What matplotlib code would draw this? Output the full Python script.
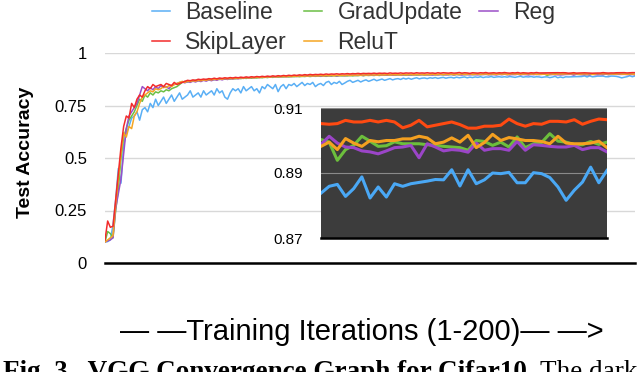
import numpy as np
import matplotlib.pyplot as plt

# Test accuracy (x1000) for iterations 1-164
baseline_head = [
    100, 102, 110, 180, 300, 450, 380, 560, 620, 650,
    690, 700, 720, 680, 730, 740, 720, 760, 740, 780,
    750, 770, 790, 760, 780, 800, 770, 790, 810, 780,
    790, 800, 820, 790, 800, 810, 790, 820, 800, 810,
    820, 800, 830, 810, 820, 790, 780, 810, 830, 820,
    830, 810, 840, 820, 830, 840, 820, 830, 810, 840,
    830, 850, 840, 830, 850, 816, 840, 850, 830, 850,
    845, 855, 840, 850, 860, 845, 855, 850, 860, 840,
    850, 855, 845, 860, 865, 850, 860, 855, 865, 850,
    857, 865, 870, 860, 865, 870, 862, 868, 872, 865,
    870, 875, 868, 872, 876, 870, 874, 878, 872, 876,
    878, 874, 880, 876, 880, 875, 879, 882, 877, 880,
    881, 878, 882, 880, 883, 879, 882, 884, 880, 883,
    884, 881, 885, 882, 884, 886, 882, 885, 883, 886,
    884, 887, 883, 886, 885, 888, 884, 886, 887, 885,
    887, 885, 888, 886, 884, 887, 889, 885, 887, 886,
    888, 885, 887, 886]
skip_head = [
    110, 200, 170, 175, 300, 420, 550, 650, 700, 690,
    760, 740, 780, 800, 790, 820, 840, 830, 850, 840,
    845, 850, 840, 855, 850, 845, 860, 850, 855, 860,
    865, 870, 868, 872, 870, 875, 873, 876, 874, 878,
    876, 880, 877, 881, 879, 882, 880, 883, 881, 884,
    882, 885, 883, 886, 884, 887, 885, 888, 886, 889,
    887, 890, 888, 891, 889, 892, 890, 893, 891, 894,
    892, 895, 893, 896, 894, 897, 895, 898, 896, 898,
    897, 899, 897, 900, 898, 900, 899, 901, 899, 901,
    900, 902, 900, 902, 901, 903, 901, 903, 902, 903,
    902, 904, 902, 904, 903, 904, 902, 905, 903, 904,
    903, 905, 903, 905, 904, 905, 903, 906, 904, 905,
    904, 906, 904, 905, 903, 906, 904, 906, 905, 904,
    906, 904, 905, 907, 904, 906, 905, 903, 906, 905,
    904, 906, 905, 907, 904, 905, 906, 904, 906, 905,
    907, 905, 904, 906, 905, 907, 904, 906, 905, 904,
    906, 905, 907, 905]
grad_head = [
    100, 150, 140, 120, 250, 350, 500, 600, 640, 680,
    700, 720, 750, 780, 770, 800, 790, 810, 800, 815,
    810, 820, 815, 825, 820, 830, 835, 840, 850, 860,
    865, 862, 868, 866, 870, 868, 872, 870, 874, 872,
    875, 873, 876, 874, 877, 875, 878, 876, 879, 877,
    880, 878, 881, 879, 882, 880, 883, 881, 884, 882,
    885, 883, 886, 884, 887, 885, 887, 886, 888, 886,
    888, 887, 889, 887, 889, 888, 890, 888, 890, 889,
    890, 889, 891, 889, 891, 890, 892, 890, 892, 891,
    892, 891, 893, 891, 893, 892, 894, 892, 894, 893,
    894, 893, 895, 893, 895, 894, 895, 894, 896, 894,
    896, 895, 896, 894, 896, 895, 897, 895, 896, 897,
    895, 897, 896, 898, 896, 897, 898, 896, 898, 897,
    898, 896, 898, 897, 899, 897, 898, 899, 897, 898,
    899, 897, 899, 898, 899, 897, 899, 898, 900, 898,
    899, 898, 900, 898, 899, 900, 898, 899, 900, 898,
    899, 900, 898, 899]
relu_head = [
    100, 110, 120, 130, 280, 400, 520, 620, 600, 650,
    640, 700, 720, 760, 790, 800, 810, 820, 815, 830,
    825, 830, 840, 835, 845, 840, 850, 855, 860, 865,
    860, 866, 864, 868, 866, 870, 868, 872, 870, 874,
    872, 876, 874, 878, 875, 879, 877, 880, 878, 881,
    879, 882, 880, 883, 881, 884, 882, 885, 883, 886,
    884, 887, 885, 888, 886, 888, 887, 889, 887, 890,
    888, 890, 889, 891, 889, 891, 890, 892, 890, 892,
    891, 893, 891, 893, 892, 894, 892, 894, 893, 894,
    893, 895, 893, 895, 894, 895, 894, 896, 894, 896,
    895, 896, 894, 897, 895, 896, 897, 895, 897, 896,
    897, 895, 898, 896, 897, 898, 896, 898, 897, 898,
    896, 898, 897, 899, 897, 898, 899, 897, 899, 898,
    899, 897, 899, 898, 900, 898, 899, 900, 898, 899,
    900, 898, 899, 900, 898, 900, 899, 898, 900, 899,
    900, 898, 899, 901, 899, 900, 898, 900, 899, 901,
    899, 900, 898, 899]
reg_head = [
    100, 105, 110, 120, 260, 330, 400, 520, 640, 700,
    720, 740, 760, 800, 840, 830, 820, 835, 825, 840,
    830, 845, 835, 840, 830, 845, 850, 855, 860, 862,
    858, 864, 860, 866, 862, 868, 864, 870, 866, 872,
    868, 874, 870, 876, 872, 877, 874, 879, 876, 880,
    877, 881, 879, 883, 880, 884, 882, 885, 883, 886,
    884, 887, 885, 888, 886, 888, 887, 889, 887, 889,
    888, 890, 888, 891, 889, 891, 890, 892, 890, 891,
    892, 890, 893, 891, 893, 892, 894, 891, 893, 894,
    892, 894, 893, 895, 893, 894, 895, 893, 895, 894,
    896, 894, 895, 897, 894, 896, 895, 897, 895, 896,
    897, 895, 896, 898, 895, 897, 896, 898, 896, 897,
    898, 896, 897, 895, 898, 896, 897, 898, 896, 897,
    898, 896, 898, 897, 895, 898, 897, 896, 898, 897,
    896, 898, 897, 899, 896, 898, 897, 896, 898, 897,
    899, 897, 896, 898, 897, 899, 896, 898, 897, 896,
    898, 897, 899, 897]

# last 36 iterations (165-200)
baseline_tail = [
    0.8838, 0.8859, 0.8865, 0.8828, 0.8852, 0.8888, 0.8823, 0.8857, 0.8826,
    0.8867, 0.8859, 0.8867, 0.8871, 0.8875, 0.8880, 0.8879, 0.8910, 0.8860,
    0.8910, 0.8867, 0.8879, 0.8900, 0.8898, 0.8902, 0.8870, 0.8870, 0.8901,
    0.8898, 0.8886, 0.8857, 0.8816, 0.8847, 0.8872, 0.8918, 0.8870, 0.8908]
skip_tail = [
    0.9052, 0.9050, 0.9052, 0.9062, 0.9057, 0.9057, 0.9062, 0.9057, 0.9062,
    0.9057, 0.9039, 0.9047, 0.9062, 0.9042, 0.9047, 0.9052, 0.9057, 0.9049,
    0.9038, 0.9038, 0.9044, 0.9044, 0.9047, 0.9066, 0.9052, 0.9044, 0.9052,
    0.9050, 0.9059, 0.9059, 0.9057, 0.9064, 0.9050, 0.9059, 0.9066, 0.9064]
grad_tail = [
    0.9003, 0.8995, 0.8939, 0.8972, 0.8985, 0.9013, 0.8998, 0.8982, 0.8984,
    0.8996, 0.8990, 0.8990, 0.8990, 0.8987, 0.8985, 0.8982, 0.8980, 0.8978,
    0.8970, 0.9000, 0.8997, 0.8985, 0.8995, 0.8980, 0.9011, 0.8978, 0.8990,
    0.8994, 0.9021, 0.8998, 0.8995, 0.8987, 0.8987, 0.8997, 0.8988, 0.8995]
relu_tail = [
    0.8982, 0.8995, 0.8972, 0.9006, 0.8992, 0.8982, 0.9000, 0.8996, 0.9000,
    0.9000, 0.9005, 0.9005, 0.9013, 0.9008, 0.8990, 0.8995, 0.9008, 0.8995,
    0.9016, 0.8978, 0.8994, 0.9019, 0.9000, 0.9009, 0.9005, 0.9000, 0.9000,
    0.8997, 0.8990, 0.9013, 0.8992, 0.8990, 0.8990, 0.8992, 0.8998, 0.8978]
reg_tail = [
    0.8988, 0.9013, 0.8992, 0.8980, 0.8978, 0.8968, 0.8965, 0.8959, 0.8968,
    0.8978, 0.8980, 0.8985, 0.8947, 0.8990, 0.8980, 0.8968, 0.8972, 0.8970,
    0.8964, 0.8992, 0.8970, 0.8975, 0.8975, 0.8970, 0.8997, 0.8970, 0.8987,
    0.8985, 0.8982, 0.8980, 0.8980, 0.8985, 0.8972, 0.8978, 0.8978, 0.8965]

names = ['Baseline', 'SkipLayer', 'GradUpdate', 'ReluT', 'Reg']
heads = [baseline_head, skip_head, grad_head, relu_head, reg_head]
tails = [baseline_tail, skip_tail, grad_tail, relu_tail, reg_tail]
main_colors = ['#5AAFF5', '#F22B2B', '#6BBF45', '#F5A623', '#9B4FC8']
inset_colors = ['#4AA8F5', '#FF4A12', '#6CBF3C', '#F5A020', '#9B45C8']

series = [np.concatenate([np.array(h) / 1000., np.array(t)])
          for h, t in zip(heads, tails)]
iters = np.arange(1, 201)

plt.rcParams['font.family'] = ['Liberation Sans', 'DejaVu Sans']

fig = plt.figure(figsize=(6.4, 3.72), dpi=100)
ax = fig.add_axes([105 / 640, 1 - 263 / 372, 530 / 640, 210 / 372])

draw_order = [0, 2, 4, 3, 1]
lines = {}
for i in draw_order:
    lines[i], = ax.plot(iters, series[i], color=main_colors[i], lw=1.1,
                        label=names[i])
ax.set_xlim(1, 200)
ax.set_ylim(0, 1)
ax.set_yticks([0, 0.25, 0.5, 0.75, 1])
ax.set_yticklabels(['0', '0.25', '0.5', '0.75', '1'])
ax.set_xticks([])
ax.tick_params(axis='y', length=0, pad=13, labelsize=12)
ax.grid(axis='y', color='#D8D8D8', lw=1.0)
ax.set_axisbelow(True)
for s in ['top', 'right', 'left']:
    ax.spines[s].set_visible(False)
ax.spines['bottom'].set_linewidth(1.8)
ax.spines['bottom'].set_color('black')

fig.legend([lines[i] for i in range(5)], names, ncol=3,
           loc='upper left', bbox_to_anchor=(152 / 640, 0.996),
           frameon=False, fontsize=16.5, handlelength=0.8,
           handletextpad=0.65, columnspacing=0.75, labelspacing=0.3,
           borderpad=0, borderaxespad=0, labelcolor='#333333')

# zoomed inset of the last iterations
axin = fig.add_axes([321 / 640, 1 - 238 / 372, 286 / 640, 130 / 372])
axin.set_facecolor('#3C3C3C')
tail_iters = iters[-36:]
for i in draw_order:
    axin.plot(tail_iters, tails[i], color=inset_colors[i], lw=2.2)
axin.set_xlim(165, 200)
axin.set_ylim(0.87, 0.91)
axin.set_yticks([0.87, 0.89, 0.91])
axin.set_yticklabels(['0.87', '0.89', '0.91'])
axin.set_xticks([])
axin.tick_params(axis='y', length=0, pad=13, labelsize=11)
axin.grid(axis='y', color='#8A8A8A', lw=0.8)
axin.set_axisbelow(True)
for s in ['top', 'right', 'left']:
    axin.spines[s].set_visible(False)
axin.spines['bottom'].set_linewidth(1.8)
axin.spines['bottom'].set_color('black')

fig.text(26 / 640, 1 - 152 / 372, 'Test Accuracy', rotation=90,
         ha='center', va='center', fontsize=14, fontweight='bold')
fig.text(362 / 640, 1 - 332 / 372,
         '\u2014 \u2014Training Iterations (1-200)\u2014 \u2014>',
         ha='center', va='center', fontsize=21)
# figure caption, cut off at the bottom edge like in the source image
fig.text(3 / 640, -0.02, 'Fig. 3.  VGG Convergence Graph for Cifar10',
         ha='left', va='baseline', fontsize=19.5, fontweight='bold',
         family='Liberation Serif')
fig.text(637 / 640, -0.02, 'The dark', ha='right', va='baseline',
         fontsize=19.5, family='Liberation Serif')

fig.savefig('out.png', dpi=100)
